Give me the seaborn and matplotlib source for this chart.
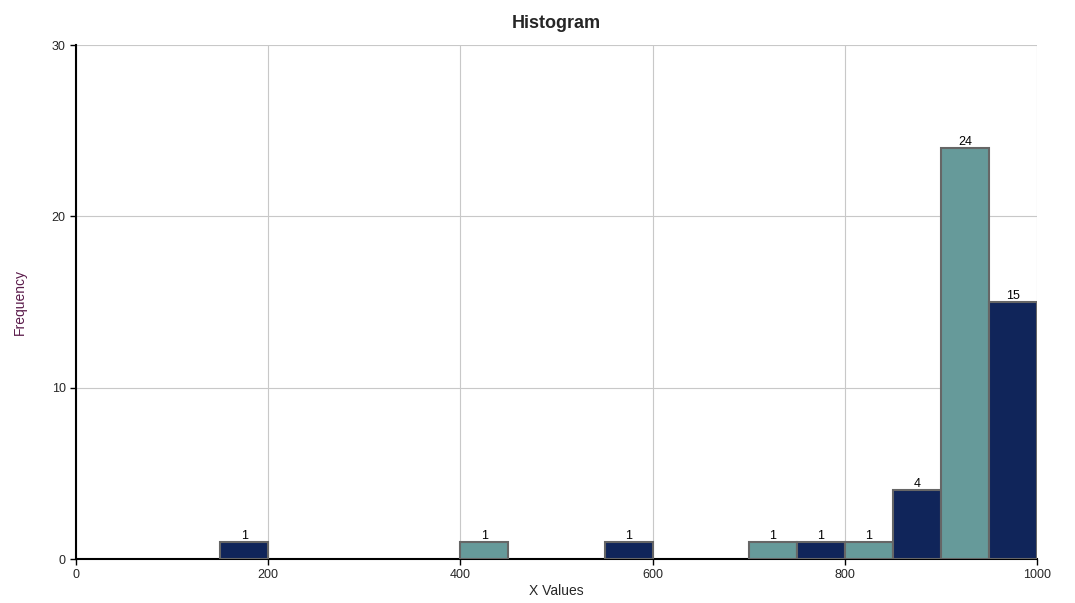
import matplotlib
matplotlib.use("Agg")
import matplotlib.pyplot as plt
import numpy as np
import pandas as pd
import seaborn as sns

bin_edges = list(range(0, 1001, 50))
counts = [0, 0, 0, 1, 0, 0, 0, 0, 1, 0, 0, 1, 0, 0, 1, 1, 1, 4, 24, 15]
navy = "#10255a"
teal = "#669a9a"

sns.set_style("white")
plt.rcParams['font.family'] = ['Arial', 'Liberation Sans', 'DejaVu Sans']

df = pd.DataFrame({"left": bin_edges[:-1], "count": counts})
df = df[df["count"] > 0]

fig = plt.figure(figsize=(10.75, 6.03), dpi=100)
ax = fig.add_axes([76 / 1075, 1 - 559 / 603, (1037 - 76) / 1075, (559 - 45) / 603])

for i, row in df.iterrows():
    c = navy if i % 2 == 1 else teal
    ax.bar(row["left"], row["count"], width=50, align="edge", color=c,
           edgecolor="#666666", linewidth=1.5, zorder=3)
    ax.text(row["left"] + 25, row["count"], str(row["count"]), ha="center",
            va="bottom", fontsize=9, color="black", zorder=4)

ax.set_xlim(0, 1000)
ax.set_ylim(0, 30)
ax.set_xticks(range(0, 1001, 200))
ax.set_yticks(range(0, 31, 10))
ax.grid(True, color="#c8c8c8", linewidth=0.8, zorder=0)
for s in ["top", "right"]:
    ax.spines[s].set_visible(False)
for s in ["left", "bottom"]:
    ax.spines[s].set_color("black")
    ax.spines[s].set_linewidth(1.5)
ax.tick_params(axis="both", direction="out", length=4, width=1, labelsize=9,
               color="black", left=True, bottom=True)
ax.set_title("Histogram", fontsize=13, fontweight="bold", pad=12)
ax.set_xlabel("X Values", fontsize=10, labelpad=2)
ax.set_ylabel("Frequency", fontsize=10, color="#5a1a4a", labelpad=18)

fig.savefig("out.png", dpi=100)
